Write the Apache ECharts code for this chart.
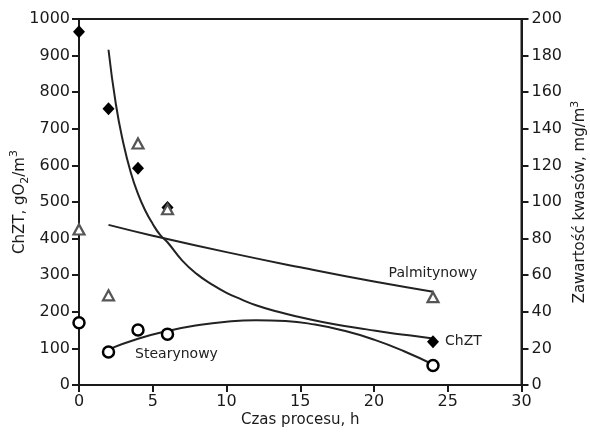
<!DOCTYPE html>
<html>
<head>
<meta charset="utf-8">
<script src="https://cdn.jsdelivr.net/npm/echarts@6/dist/echarts.min.js"></script>
<style>html,body{margin:0;padding:0;background:#fff;}#c{width:590px;height:440px;}</style>
</head>
<body>
<div id="c"></div>
<script>
// Measured points
const xPts = [0, 2, 4, 6, 24];
const chztVals = [965, 755, 592, 485, 118];          // left axis, gO2/m3
const palmVals = [85, 49, 132, 96, 48];              // right axis, mg/m3
const stearVals = [34, 18, 30, 27.8, 10.6];          // right axis, mg/m3

// Trend curves
const chztFitX = [2, 2.5, 3, 3.5, 4, 4.5, 5, 5.5, 6, 7, 8, 9, 10, 11, 12, 13.5, 15, 16.5, 18, 19.5, 21, 22.5, 24];
const chztFitY = [916, 767, 662, 582, 522, 476, 440, 410, 390, 340, 303, 275, 252, 234, 218, 200, 185, 172, 161, 152, 143, 135, 127];
const palmFitX = [2, 5, 10, 15, 20, 24];
const palmFitY = [87.5, 81.6, 72.6, 64.3, 56.5, 51];
const stearFitX = [2, 4, 6, 8, 10, 12, 14, 16, 18, 20, 22, 24];
const stearFitY = [19.5, 25.3, 29.5, 32.6, 34.6, 35.4, 35, 33, 29.6, 24.8, 18.6, 11.2];

// Axis ticks
const xTicks = [0, 5, 10, 15, 20, 25, 30];
const leftTicks = [0, 100, 200, 300, 400, 500, 600, 700, 800, 900, 1000];
const rightTicks = [0, 20, 40, 60, 80, 100, 120, 140, 160, 180, 200];

const FONT = 'DejaVu Sans';
const INK = '#1a1a1a';
const zip = (xs, ys) => xs.map((x, i) => [x, ys[i]]);

const lineStyleCurve = { color: '#222', width: 2 };
const axisCommon = {
  axisLine: { show: true, lineStyle: { color: INK, width: 2 } },
  axisTick: { show: true, inside: false, length: 7, lineStyle: { color: INK, width: 2 } },
  splitLine: { show: false },
  axisLabel: { color: INK, fontFamily: FONT, fontSize: 16, margin: 9, formatter: v => String(v) },
  nameTextStyle: { color: INK, fontFamily: FONT, fontSize: 15 },
  nameMoveOverlap: false
};

const richName = {
  sup: { fontFamily: FONT, fontSize: 11, color: INK, verticalAlign: 'top', lineHeight: 12 },
  sub: { fontFamily: FONT, fontSize: 11, color: INK, verticalAlign: 'bottom', lineHeight: 12 }
};

const chart = echarts.init(document.getElementById('c'), null, { renderer: 'canvas' });
chart.setOption({
  animation: false,
  backgroundColor: '#fff',
  grid: { left: 79, right: 68.5, top: 19, bottom: 55, containLabel: false, outerBoundsMode: 'none',
          show: true, borderColor: INK, borderWidth: 2, backgroundColor: 'transparent' },
  xAxis: Object.assign({}, axisCommon, {
    type: 'value', min: xTicks[0], max: xTicks[xTicks.length - 1], interval: xTicks[1] - xTicks[0],
    name: 'Czas procesu, h', nameLocation: 'middle', nameGap: 28,
    nameTextStyle: { color: INK, fontFamily: FONT, fontSize: 15 }
  }),
  yAxis: [
    Object.assign({}, axisCommon, {
      type: 'value', position: 'left', min: leftTicks[0], max: leftTicks[leftTicks.length - 1], interval: leftTicks[1] - leftTicks[0],
      name: 'ChZT, gO{sub|2}/m{sup|3}', nameLocation: 'middle', nameGap: 48,
      nameTextStyle: { color: INK, fontFamily: FONT, fontSize: 15, lineHeight: 22, rich: richName }
    }),
    Object.assign({}, axisCommon, {
      type: 'value', position: 'right', min: rightTicks[0], max: rightTicks[rightTicks.length - 1], interval: rightTicks[1] - rightTicks[0],
      axisLabel: { color: INK, fontFamily: FONT, fontSize: 16, margin: 10, formatter: v => String(v) },
      name: 'Zawartość kwasów, mg/m{sup|3}', nameLocation: 'middle', nameGap: 48,
      nameTextStyle: { color: INK, fontFamily: FONT, fontSize: 15, lineHeight: 22, rich: richName }
    })
  ],
  series: [
    { type: 'line', yAxisIndex: 0, data: zip(chztFitX, chztFitY), showSymbol: false, smooth: 0.5, lineStyle: lineStyleCurve, z: 2, silent: true },
    { type: 'line', yAxisIndex: 1, data: zip(palmFitX, palmFitY), showSymbol: false, smooth: 0.5, lineStyle: lineStyleCurve, z: 2, silent: true },
    { type: 'line', yAxisIndex: 1, data: zip(stearFitX, stearFitY), showSymbol: false, smooth: 0.5, lineStyle: lineStyleCurve, z: 2, silent: true },
    {
      type: 'scatter', yAxisIndex: 0, symbol: 'diamond', symbolSize: [12, 13], z: 3,
      itemStyle: { color: '#000', opacity: 1 },
      data: xPts.map((x, i) => {
        const d = { value: [x, chztVals[i]] };
        if (i === xPts.length - 1) d.label = { show: true, formatter: 'ChZT', position: 'right', distance: 6, color: '#222', fontFamily: FONT, fontSize: 14 };
        return d;
      })
    },
    {
      type: 'scatter', yAxisIndex: 1, symbol: 'triangle', symbolSize: [11, 10], z: 4,
      itemStyle: { color: '#fff', borderColor: '#555', borderWidth: 2.2, opacity: 1 },
      data: xPts.map((x, i) => {
        const d = { value: [x, palmVals[i]] };
        if (i === xPts.length - 1) d.label = { show: true, formatter: 'Palmitynowy', position: 'top', distance: 11, color: '#222', fontFamily: FONT, fontSize: 14 };
        return d;
      })
    },
    {
      type: 'scatter', yAxisIndex: 1, symbol: 'circle', symbolSize: 11, z: 5,
      itemStyle: { color: '#fff', borderColor: '#000', borderWidth: 2.5, opacity: 1 },
      data: xPts.map((x, i) => {
        const d = { value: [x, stearVals[i]] };
        if (i === 3) d.label = { show: true, formatter: 'Stearynowy', position: 'bottom', distance: 6, offset: [9, 0], color: '#222', fontFamily: FONT, fontSize: 14 };
        return d;
      })
    }
  ]
});
</script>
</body>
</html>
